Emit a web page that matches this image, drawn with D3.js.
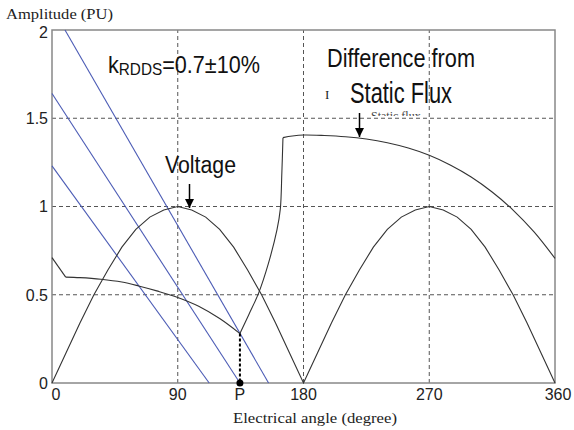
<!DOCTYPE html>
<html>
<head>
  <meta charset="utf-8">
  <title>Amplitude vs electrical angle</title>
  <script src="https://cdnjs.cloudflare.com/ajax/libs/d3/7.8.5/d3.min.js"></script>
  <style>
    body { margin: 0; background: #fff; }
    .sans { font-family: "Liberation Sans", Arial, sans-serif; }
    .serif { font-family: "Liberation Serif", "Times New Roman", serif; }
  </style>
</head>
<body>
  <svg id="chart"></svg>
  <script>
    // values
    const xTickValues = [0, 90, 134.5, 180, 270, 360];
    const xTickLabels = ["0", "90", "P", "180", "270", "360"];
    const yTickValues = [0, 0.5, 1, 1.5, 2];
    const yTickLabels = ["0", "0.5", "1", "1.5", "2"];
    const xGrid = [90, 180, 270];
    const yGrid = [0.5, 1, 1.5];

    // voltage |sin| shape, two humps
    const voltageAngle = [0, 10, 20, 30, 40, 50, 60, 70, 80, 90, 100, 110, 120, 130, 140, 150, 160, 170, 180,
      190, 200, 210, 220, 230, 240, 250, 260, 270, 280, 290, 300, 310, 320, 330, 340, 350, 360];
    const voltageValue = [0, 0.17, 0.34, 0.5, 0.64, 0.77, 0.87, 0.94, 0.98, 1, 0.98, 0.94, 0.87, 0.77, 0.64, 0.5, 0.34, 0.17, 0,
      0.17, 0.34, 0.5, 0.64, 0.77, 0.87, 0.94, 0.98, 1, 0.98, 0.94, 0.87, 0.77, 0.64, 0.5, 0.34, 0.17, 0];

    // flux difference curve
    const fluxAngle = [0, 9.8, 20, 35, 50, 62, 75, 90, 105, 120, 134.5,
      141, 147.8, 154.9, 161, 163.4, 164.5, 165.3, 172, 180, 195, 210, 225, 240, 255, 270, 285, 300, 315, 330, 345, 360];
    const fluxValue = [0.71, 0.6, 0.597, 0.588, 0.572, 0.55, 0.522, 0.485, 0.435, 0.365, 0.28,
      0.39, 0.508, 0.678, 0.867, 0.985, 1.19, 1.39, 1.399, 1.405, 1.402, 1.395, 1.382, 1.361, 1.331, 1.29, 1.235, 1.167, 1.082, 0.98, 0.856, 0.706];
    // indices where the flux curve has a sharp corner
    const fluxCorners = [0, 1, 10, 17, 31];

    // k_RDDS lines (start / end)
    const kStart = [[9.3, 2], [0, 1.64], [0, 1.23]];
    const kEnd = [[155, 0], [134.5, 0], [112.5, 0]];

    const pointP = [134.5, 0.28];

    const W = 574, H = 430;
    const margin = { left: 52, top: 30, right: 19, bottom: 47 };
    const width = W - margin.left - margin.right;
    const height = H - margin.top - margin.bottom;

    const svg = d3.select("#chart").attr("width", W).attr("height", H);

    const defs = svg.append("defs");
    defs.append("marker")
      .attr("id", "arrow")
      .attr("viewBox", "0 0 10 10")
      .attr("refX", 10).attr("refY", 5)
      .attr("markerWidth", 9).attr("markerHeight", 10)
      .attr("markerUnits", "userSpaceOnUse")
      .attr("orient", "auto")
      .append("path").attr("d", "M0,0L10,5L0,10Z").attr("fill", "#000");
    defs.append("clipPath").attr("id", "cutText")
      .append("rect").attr("x", 0).attr("y", 0).attr("width", W).attr("height", 116);

    const x = d3.scaleLinear().domain([0, 360]).range([margin.left, margin.left + width]);
    const y = d3.scaleLinear().domain([0, 2]).range([margin.top + height, margin.top]);

    /** grid */
    const grid = svg.append("g")
      .attr("stroke", "#555")
      .attr("stroke-width", 1)
      .attr("stroke-dasharray", "4,3");
    grid.selectAll(".gx").data(xGrid).join("line")
      .attr("x1", d => x(d)).attr("x2", d => x(d))
      .attr("y1", y(0)).attr("y2", y(2));
    grid.selectAll(".gy").data(yGrid).join("line")
      .attr("y1", d => y(d)).attr("y2", d => y(d))
      .attr("x1", x(0)).attr("x2", x(360));

    /** frame */
    svg.append("rect")
      .attr("x", x(0)).attr("y", y(2))
      .attr("width", x(360) - x(0)).attr("height", y(0) - y(2))
      .attr("fill", "none").attr("stroke", "#888").attr("stroke-width", 1.5);

    /** small faint label partly hidden */
    svg.append("text").attr("class", "serif")
      .attr("clip-path", "url(#cutText)")
      .attr("x", 371).attr("y", 120)
      .attr("font-size", 12).attr("fill", "#444")
      .text("Static flux");
    svg.append("text").attr("class", "serif")
      .attr("x", 325).attr("y", 99)
      .attr("font-size", 13).attr("fill", "#222")
      .text("I");

    /** k lines */
    svg.append("g").selectAll("line").data(kStart).join("line")
      .attr("x1", d => x(d[0])).attr("y1", d => y(d[1]))
      .attr("x2", (d, i) => x(kEnd[i][0])).attr("y2", (d, i) => y(kEnd[i][1]))
      .attr("stroke", "#4b5bb5").attr("stroke-width", 1.1);

    /** curves */
    const line = d3.line().x(d => x(d[0])).y(d => y(d[1]));
    const smooth = d3.line().x(d => x(d[0])).y(d => y(d[1])).curve(d3.curveCatmullRom.alpha(0.5));
    svg.append("path")
      .attr("d", line(voltageAngle.map((a, i) => [a, voltageValue[i]])))
      .attr("fill", "none").attr("stroke", "#333").attr("stroke-width", 1.1);

    const fluxPts = fluxAngle.map((a, i) => [a, fluxValue[i]]);
    for (let s = 0; s < fluxCorners.length - 1; s++) {
      svg.append("path")
        .attr("d", smooth(fluxPts.slice(fluxCorners[s], fluxCorners[s + 1] + 1)))
        .attr("fill", "none").attr("stroke", "#333").attr("stroke-width", 1.1);
    }

    /** P marker */
    svg.append("line")
      .attr("x1", x(pointP[0])).attr("x2", x(pointP[0]))
      .attr("y1", y(pointP[1])).attr("y2", y(0))
      .attr("stroke", "#000").attr("stroke-width", 2).attr("stroke-dasharray", "3,2");
    svg.append("circle")
      .attr("cx", x(pointP[0])).attr("cy", y(0)).attr("r", 3.5).attr("fill", "#000");

    /** tick labels */
    svg.append("g").attr("class", "sans").attr("font-size", 16).attr("fill", "#222")
      .selectAll("text").data(yTickValues).join("text")
      .attr("x", margin.left - 4).attr("y", (d, i) => y(d) + (i === yTickValues.length - 1 ? 2 : 0))
      .attr("dy", "0.36em").attr("text-anchor", "end")
      .text((d, i) => yTickLabels[i]);
    svg.append("g").attr("class", "sans").attr("font-size", 16).attr("fill", "#222")
      .selectAll("text").data(xTickValues).join("text")
      .attr("x", (d, i) => x(d) + (i === 0 ? 4 : i === xTickValues.length - 1 ? 3 : 0))
      .attr("y", y(0) + 17)
      .attr("text-anchor", "middle")
      .text((d, i) => xTickLabels[i]);

    /** axis titles */
    svg.append("text").attr("class", "serif")
      .attr("x", 6).attr("y", 19).attr("font-size", 15).attr("fill", "#222")
      .attr("textLength", 107).attr("lengthAdjust", "spacingAndGlyphs")
      .text("Amplitude (PU)");
    svg.append("text").attr("class", "serif")
      .attr("x", 233).attr("y", 423).attr("font-size", 15).attr("fill", "#222")
      .attr("textLength", 164).attr("lengthAdjust", "spacingAndGlyphs")
      .text("Electrical angle (degree)");

    /** annotations */
    const kLabel = svg.append("text").attr("class", "sans")
      .attr("x", 108).attr("y", 73).attr("font-size", 24).attr("fill", "#111")
      .attr("textLength", 152).attr("lengthAdjust", "spacingAndGlyphs");
    kLabel.append("tspan").text("k");
    kLabel.append("tspan").attr("font-size", 17).attr("dy", 2).text("RDDS");
    kLabel.append("tspan").attr("dy", -2).text("=0.7±10%");

    svg.append("text").attr("class", "sans")
      .attr("x", 327).attr("y", 67).attr("font-size", 25).attr("fill", "#111")
      .attr("textLength", 148).attr("lengthAdjust", "spacingAndGlyphs")
      .text("Difference from");
    svg.append("text").attr("class", "sans")
      .attr("x", 350).attr("y", 103).attr("font-size", 29).attr("fill", "#111")
      .attr("textLength", 102).attr("lengthAdjust", "spacingAndGlyphs")
      .text("Static Flux");
    svg.append("text").attr("class", "sans")
      .attr("x", 165).attr("y", 173).attr("font-size", 23).attr("fill", "#111")
      .attr("textLength", 71).attr("lengthAdjust", "spacingAndGlyphs")
      .text("Voltage");

    /** arrows */
    svg.append("line")
      .attr("x1", 189.5).attr("y1", 184).attr("x2", 189.5).attr("y2", 208)
      .attr("stroke", "#000").attr("stroke-width", 1.5).attr("marker-end", "url(#arrow)");
    svg.append("line")
      .attr("x1", 359.5).attr("y1", 113).attr("x2", 359.5).attr("y2", 137)
      .attr("stroke", "#000").attr("stroke-width", 1.5).attr("marker-end", "url(#arrow)");
  </script>
</body>
</html>
